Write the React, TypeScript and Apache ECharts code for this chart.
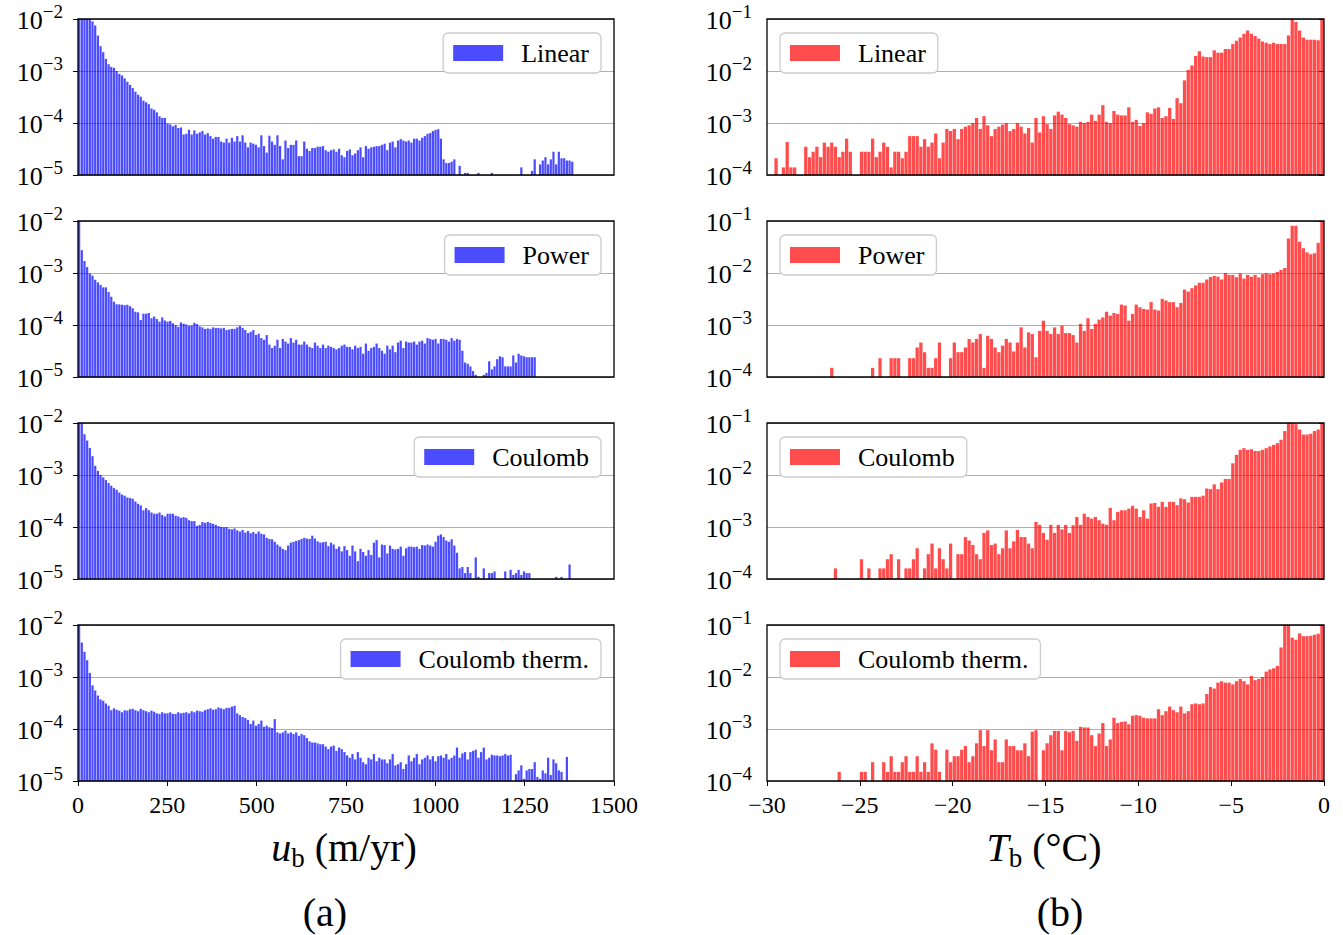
import React, { useEffect, useRef } from "react";
import * as echarts from "echarts";

// ---------------- data ----------------
// Left column: basal sliding speed u_b (m/yr), bins of 7.5 m/yr starting at 0.
// Values are probability densities given in units of 1e-5 (0 = empty bin).
// Right column: basal temperature T_b (°C), bins of 0.2 °C starting at -30.
// Values are probability densities given in units of 1e-4 (0 = empty bin).
const U_MIN = 0;
const U_MAX = 1500;
const U_TICK = 250;
const U_BIN = 7.5;
const U_UNIT = 1e-5;
const U_YMIN = 1e-5;
const U_YMAX = 1e-2;

const T_MIN = -30;
const T_MAX = 0;
const T_TICK = 5;
const T_BIN = 0.2;
const T_UNIT = 1e-4;
const T_YMIN = 1e-4;
const T_YMAX = 1e-1;

const models = ["Linear", "Power", "Coulomb", "Coulomb therm."];

const uLinear = [
  1000, 1000, 1000, 1000, 1000,
  900, 750, 480, 300, 230, 170, 135, 120, 115, 100,
  88, 82, 72, 62, 54, 47, 40, 35, 32, 27, 25, 23, 19, 18, 16, 13.5, 12.5, 12.5,
  9.8, 9.4, 8.6, 9.2, 8, 8.2, 6, 6.2, 7.4, 6, 7.2, 6.2, 6.6,
  7, 6, 6.4, 5.6, 5, 5.4, 5.4, 4.4, 4.2, 5, 4.2, 5.2, 4.4, 5.6, 4.4,
  5.8, 4.2, 3.4, 4.2, 4, 3.8, 3.4, 5.8, 3.6, 2.7, 5.7, 4.4, 3.8, 5.8, 3.6,
  2, 4.6, 3.3, 3.8, 3.8, 4.6, 2.3, 2.3, 4.4, 3.2, 2.9, 3.3, 3.3, 3.5, 3.5,
  3.6, 3.0, 2.8, 3.0, 3.1, 2.8, 3.2, 2.4, 2.2, 2.9, 3.1, 2.4, 2.6, 3.0, 3.4,
  2.2, 3.6, 3.2, 3.4, 3.5, 3.6, 3.6, 3.8, 4.0, 3.0, 4.2, 4.4, 3.4, 4.6, 4.9,
  4.6, 4.4, 4.6, 4.2, 5.0, 5.0, 4.6, 5.2, 5.6, 6.2, 6.4, 7.0, 7.4, 7.6, 5.0,
  2.0, 1.7, 1.7, 1.8, 2.0, 0,
  1.5, 0, 1.1, 1.1, 0, 0, 0, 1.1,
  0, 0, 0, 0,
  1.1,
  0, 0, 0, 0, 0, 0, 0, 0, 0, 0,
  1.4,
  0, 0, 0,
  1.2, 2.0, 0,
  1.6, 1.9, 2.2, 1.6, 2.0, 2.8, 1.6, 2.8, 2.1, 2.1, 1.9, 1.9, 1.8,
];

const uPower = [
  1000,
  275, 170, 130, 98, 89, 74, 66, 59, 53, 53,
  43, 35, 28, 25, 25, 24.5, 24, 24.5, 23, 21, 18, 17.5,
  12.5, 16.5, 16.5, 17, 13.5, 14.5, 13, 11.6, 14, 12.2, 11.6, 12, 10.8,
  10, 9.2, 11.2, 10.6, 10.2, 9.6, 9.8, 11, 10.4, 9.4, 9, 8.4, 8.6,
  8.4, 9, 8.8, 8.8, 8.6, 8.8, 8, 8.2, 8.4, 8.4, 9, 9.6,
  8.8, 8, 7, 7.4, 8, 6.4, 6.8, 5.6, 5.2, 6.4, 4.2, 3.6, 4, 5.2, 3.6,
  5.4, 4.8, 4.4, 5.6, 4.6, 5.2, 4.2, 4.2, 4.8, 4.2, 3.8, 3.6, 4.6, 4, 3.6,
  4.2, 3.6, 4, 3.8, 3.6, 3.4, 3.6, 4, 4.2, 3.8, 3.8, 3.4, 4, 3.6, 3.8,
  2.8, 4.4, 3.2, 3.6, 3.8, 4.4, 3.6, 3.2, 2.8, 4, 3.4, 4, 3, 4.6, 5,
  3.6, 4.8, 4.6, 4.6, 4.8, 4.2, 4.8, 5, 4.4, 5.6, 5.4, 5.2, 5.4, 4.4, 5.4,
  5.4, 5.2, 4.8, 5.6, 5.0, 5.4, 5.2, 3.2,
  1.9, 1.8, 1.6, 1.3, 1.1, 0, 0, 1.1, 1.2, 2.0, 1.4, 1.6, 2.2, 2.5, 2.4, 1.6,
  1.6, 1.6, 2.6, 1.9, 2.8, 2.6, 2.5, 2.4, 2.4, 2.4, 2.4,
];

const uCoulomb = [
  1000, 1000, 610, 460, 330, 230, 150, 120, 100,
  90, 80, 70, 62, 56, 52, 46, 42, 40, 37, 36, 35, 31, 28, 26,
  21, 23, 21, 19, 18, 18, 19, 17, 16, 18, 18, 18, 16.5, 16, 15, 15.5, 15,
  13.5, 13, 13, 10.5, 11, 12.5, 12, 12.5, 12, 11.5, 11, 10.4, 10, 9.8, 10, 9.2,
  9, 9.4, 8.6, 8.2, 8.8, 7.8, 8.4, 7.6, 8, 7.4,
  8.2, 7.4, 7.2, 6.2, 5.9, 5.8, 5.2, 4.6, 4.2, 3.8, 3.6, 4.4, 5, 5.2,
  5.4, 5.6, 5.9, 6.2, 6, 5.9, 6.8, 6, 5.3, 5, 5.1, 5.2, 4.3, 5, 4.6,
  3.8, 4.2, 3.4, 4.3, 3.6, 2.8, 4.4, 3.4, 2.2, 3.8, 3.3, 2.8, 3.6, 2.9, 5,
  5.6, 2.6, 4.6, 4.5, 3.1, 4.4, 3.8, 3.7, 3.8, 4.2, 2.8, 3.9, 4.2, 4.2, 4.1,
  4.2, 3.8, 4.5, 4.4, 4.6, 4.4, 4.2, 5.2, 6.8, 7.2, 6.4, 5.5, 5.2, 5.8, 4.4, 3.2,
  1.6, 1.7, 1.3, 1.7, 1.3, 0, 2.6, 1.1, 0, 1.6, 0, 1.3, 1.3, 1.4, 0, 0, 0, 1.4,
  0, 1.5, 1.2, 1.3, 1.5, 1.2, 1.4, 1.3, 1.3,
  0, 0, 0, 0, 0, 0, 0, 0, 0, 1.1, 0, 1.1, 0, 0, 1.9,
];

const uCoulombTherm = [
  1000,
  460, 305, 210, 120, 69, 55, 44, 37,
  35, 31, 28, 23, 25, 23.5, 22.6,
  21, 23, 22.6, 24, 24.5, 23, 22, 24.5, 23, 22, 21, 22.6, 21.5, 20, 19.5,
  21, 20, 20, 21, 19.5, 19.5, 21, 20, 20.5, 21, 20, 22, 21, 22.6, 22,
  21.5, 23, 24, 25, 23.5, 24, 26, 25, 24, 25.5, 25.5, 27, 28,
  20, 18.5, 17, 16.3, 15, 12.5, 14.5, 11.6, 12.5, 14.5, 11, 11.6, 10.8, 10.4, 15.5,
  8.6, 8.2, 8.6, 9.3, 8.2, 8.6, 8, 8.6, 7.4, 8, 7.6, 6.7, 5.8, 5.5, 5.5,
  5.3, 5.1, 5.1, 4.6, 4.1, 4.6, 4.8, 3.8, 4.4, 4.1, 3.6, 3.1, 2.8, 3.3, 2.6,
  3.6, 2.8, 2.3, 2.1, 2.8, 2.6, 3.3, 2.4, 2.8, 2.6, 2.6, 2.2, 2.6, 3.3, 2.0,
  2.1, 2.3, 1.7, 2.1, 3.1, 2.4, 2.8, 3.3, 2.1, 2.6, 2.8, 3.1, 2.6, 3.0, 2.4,
  3.0, 3.1, 2.8, 3.3, 2.6, 2.8, 3.1, 4.4, 2.8, 3.4, 3.6, 2.6, 3.6, 3.8, 4.0,
  2.8, 3.6, 4.4, 2.6, 2.8, 3.2, 3.1, 3.1, 3.0, 3.1, 3.3, 3.1, 3.2, 0,
  1.35, 1.6, 2.0, 1.1, 1.6, 1.7, 1.7, 2.3, 1.2, 1.1, 1.6, 1.4, 2.8, 1.3, 2.6, 2.2,
  1.6, 1.5, 1.0, 2.9,
];

const tLinear = [
  0, 0, 2.1, 0, 1.4, 4.3, 1.4, 1.4, 0, 0,
  3.5, 2.2, 2.8, 3.5, 2.2, 4.2, 3.5, 4.2, 3.5, 2.2, 2.8, 5.0, 2.8,
  0, 0,
  2.8, 2.8, 2.8, 5.0, 2.2, 2.8, 4.2, 3.5, 1.4, 2.8, 2.8, 2.1, 2.8,
  5.6, 5.6, 5.6, 3.5, 4.9, 3.5, 4.2, 6.3, 2.1, 4.2, 7.7, 7.0, 7.7, 4.9, 7.7, 8.5, 9, 10,
  12.5, 7.7, 13.5, 9, 5.6, 7.7, 8.5, 9.3, 10, 7, 7.7, 10, 8.5, 6.3, 8, 4.2, 12.5, 6.6, 13.5, 9.5,
  7.7, 14, 16.5, 14.5, 12.5, 9.5, 9, 8.5, 10.5, 10, 10.5, 14.5, 11, 14.5, 22, 10.5, 10, 17, 14.5, 14,
  14, 20, 10.5, 11.5, 8.8, 10, 16, 15, 19, 20, 12.5, 13.5, 19.5, 12, 30, 24,
  66, 105, 128, 195, 240, 190, 185, 185, 250, 225, 225, 265, 265, 330, 380, 440, 520, 600,
  520, 470, 420, 370, 350, 330, 350, 330, 330, 330, 480, 1000, 880, 600, 440, 400, 400, 400, 390, 1000,
];

const tPower = [
  0, 0, 0, 0, 0, 0, 0, 0, 0, 0, 0, 0, 0, 0, 0, 0, 0,
  1.5,
  0, 0, 0, 0, 0, 0, 0, 0, 0, 0,
  1.5, 0, 2.3, 0, 0, 2.3, 2.3, 2.3, 0, 0,
  2.3, 2.3, 3.7, 4.6, 3.0, 1.5, 1.5, 2.3, 4.6,
  0, 0,
  2.3, 4.6, 3.0, 3.0, 3.7, 5.4, 4.6, 5.4, 6.7, 1.5, 6.2, 5.4, 3.7, 3.0, 4.0, 5.4, 4.6, 3.1, 4.6, 9.0, 3.7,
  7.2, 6.7, 2.4, 7.7, 12.1, 7.7, 6.7, 9.0, 6.7, 9.7, 7.0, 7.0, 6.4, 4.6, 10.5, 7.7, 13.5, 8.4, 10.5, 12.7,
  14, 18, 15.2, 17, 16.3, 24.7, 23.7, 12.1, 16.3, 24.7, 22, 20.4, 19.8, 27.5, 19.8, 19, 31.8, 29.6, 27.5, 27.5,
  22, 26.6, 48, 44, 51, 57.6, 65, 65, 75, 84,
  88, 85, 75, 100, 92, 92, 83, 98, 78, 92, 85, 92, 82, 95, 100, 95, 98, 105, 115, 125,
  460, 810, 810, 400, 300, 250, 230, 240, 380, 1000,
];

const tCoulomb = [
  0, 0, 0, 0, 0, 0, 0, 0, 0, 0, 0, 0, 0, 0, 0, 0, 0, 0,
  1.6,
  0, 0, 0, 0, 0, 0,
  2.4, 0, 1.6, 0, 0, 1.6,
  1.6, 2.4, 3.0, 0, 2.4, 0, 1.6, 1.6, 2.4, 3.9,
  0, 1.6, 3.0, 4.8, 1.6, 3.9, 2.4, 1.6, 4.8, 0, 3.0, 3.0, 6.4,
  5.5, 4.5, 3.0, 2.4, 7.7, 8.6, 4.5, 4.8, 3.0, 3.9, 8.6, 3.9, 5.3, 8.8, 6.4, 6.4, 4.8, 3.9,
  12.5, 11, 7.7, 5.7, 11, 7.7, 11, 9.0, 11, 7.7, 10.8, 15.6, 11, 18, 15.6, 14.5, 15.6, 13.5, 11.6, 11,
  23.3, 13.5, 19.5, 21, 21, 22.6, 25.5, 22.6, 15.6, 21, 14.5, 28.3, 29, 24.4, 30.5, 24.4, 30.5, 30.5, 26.3, 35.5,
  34.3, 29.6, 38, 38, 38, 40, 55, 53.5, 66, 53.5, 72, 84, 84, 168, 244, 305, 328, 305, 313, 290,
  290, 305, 328, 354, 380, 410, 476, 700, 1000, 1000, 950, 750, 600, 600, 620, 700, 750, 1000,
];

const tCoulombTherm = [
  0, 0, 0, 0, 0, 0, 0, 0, 0, 0, 0, 0, 0, 0, 0, 0, 0, 0, 0,
  1.5,
  0, 0, 0, 0, 0,
  1.5, 1.5, 0, 2.3, 0, 0, 2.3,
  1.5, 3.0, 1.5, 1.5, 2.3, 3.0, 1.5, 1.5, 3.0, 1.5, 2.3, 1.5, 5.3, 4.0, 1.5,
  0,
  4.0, 2.3, 3.0, 3.0, 4.0, 4.7, 2.3, 3.0, 5.3, 9.5, 4.7, 9.5, 3.9, 6.3, 2.3, 2.3, 6.3, 4.7, 4.7, 3.9,
  3.9, 5.3, 3.0, 8.9, 9.5,
  0,
  3.9, 5.3, 7.6, 9.2, 9.2, 3.9, 9.2, 8.7, 9.2, 5.9,
  11, 10.7, 10.7, 7.6, 4.7, 8.2, 13, 4.7, 6.3, 16.5,
  13, 13.7, 14, 12.3, 18, 18.5, 18, 16.5, 16, 16,
  16, 24, 18.5, 22, 27, 23, 21, 27, 20, 22,
  30, 31, 30, 31, 47, 64, 60, 78, 83, 78,
  78, 72, 83, 92, 83, 72, 105, 87, 92, 100,
  127, 140, 147, 164, 370, 1000, 1000, 570, 520, 690,
  610, 610, 620, 650, 680, 1000,
];

const uSeries = [uLinear, uPower, uCoulomb, uCoulombTherm];
const tSeries = [tLinear, tPower, tCoulomb, tCoulombTherm];

// ---------------- layout / style ----------------
const FONT = "'Liberation Serif', 'DejaVu Serif', serif";
const BLUE = "rgba(0,0,255,0.7)";
const RED = "rgba(255,0,0,0.7)";
const ROW_TOP = [19, 221, 423, 625];
const ROW_H = 156;
const COLS = [
  { left: 78, width: 536 },
  { left: 767, width: 557 },
];

const minus = (n: number) => (n < 0 ? "\u2212" + Math.abs(n) : String(Math.abs(n)));

function toBins(vals: number[], start: number, bw: number, unit: number) {
  const out: number[][] = [];
  vals.forEach((v, i) => {
    if (v > 0) out.push([start + i * bw, start + (i + 1) * bw, v * unit]);
  });
  return out;
}

function makeRender(yMin: number, color: string) {
  return (params: any, api: any) => {
    const a = api.coord([api.value(0), api.value(2)]);
    const b = api.coord([api.value(1), yMin]);
    const w = Math.max(b[0] - a[0] - 0.45, 0.6);
    return {
      type: "rect",
      shape: { x: a[0], y: a[1], width: w, height: b[1] - a[1] },
      style: { fill: color },
    };
  };
}

function buildOption() {
  const grid: any[] = [];
  const xAxis: any[] = [];
  const yAxis: any[] = [];
  const series: any[] = [];
  const legend: any[] = [];
  const graphic: any[] = [];

  for (let c = 0; c < 2; c++) {
    for (let r = 0; r < 4; r++) {
      const k = c * 4 + r;
      const col = COLS[c];
      const isU = c === 0;
      const yMin = isU ? U_YMIN : T_YMIN;
      const yMax = isU ? U_YMAX : T_YMAX;
      const color = isU ? BLUE : RED;
      grid.push({
        left: col.left,
        top: ROW_TOP[r],
        width: col.width,
        height: ROW_H,
        containLabel: false,
        outerBoundsMode: "none",
        show: false,
      });
      xAxis.push({
        gridIndex: k,
        type: "value",
        min: isU ? U_MIN : T_MIN,
        max: isU ? U_MAX : T_MAX,
        interval: isU ? U_TICK : T_TICK,
        axisLine: { show: false },
        axisTick: { show: r === 3, length: 5, lineStyle: { color: "#000", width: 1 } },
        axisLabel: {
          show: r === 3,
          margin: 12,
          fontSize: 24,
          fontFamily: FONT,
          color: "#000",
          formatter: (v: number) => minus(v),
        },
        splitLine: { show: false },
      });
      yAxis.push({
        gridIndex: k,
        type: "log",
        logBase: 10,
        min: yMin,
        max: yMax,
        axisLine: { show: false },
        axisTick: { show: true, length: 5, lineStyle: { color: "#000", width: 1 } },
        axisLabel: {
          margin: 15,
          color: "#000",
          padding: [0, 0, 8, 0],
          formatter: (v: number) => {
            const e = Math.round(Math.log10(v));
            return "{b|10}{s|" + minus(e) + "}";
          },
          rich: {
            b: { fontSize: 26, fontFamily: FONT, color: "#000", lineHeight: 26, verticalAlign: "top", padding: [5, 0, 0, 0] },
            s: { fontSize: 19, fontFamily: FONT, color: "#000", lineHeight: 19, verticalAlign: "top" },
          },
        },
        splitLine: { show: true, lineStyle: { color: "#b0b0b0", width: 1.2 } },
      });
      const vals = isU ? uSeries[r] : tSeries[r];
      series.push({
        type: "custom",
        name: models[r],
        xAxisIndex: k,
        yAxisIndex: k,
        coordinateSystem: "cartesian2d",
        clip: true,
        itemStyle: { color },
        encode: { x: [0, 1], y: 2 },
        data: isU ? toBins(vals, U_MIN, U_BIN, U_UNIT) : toBins(vals, T_MIN, T_BIN, T_UNIT),
        renderItem: makeRender(yMin, color),
      });
      const lg: any = {
        data: [{ name: models[r], itemStyle: { color } }],
        top: ROW_TOP[r] + 14,
        orient: "horizontal",
        icon: "rect",
        itemWidth: 50,
        itemHeight: 16,
        padding: [7, 12, 7, 10],
        backgroundColor: "#fff",
        borderColor: "#cccccc",
        borderWidth: 1.3,
        borderRadius: 5,
        selectedMode: false,
        textStyle: { fontSize: 26, fontFamily: FONT, color: "#000", padding: [0, 0, 0, 13] },
      };
      if (isU) lg.right = 1343 - 601;
      else lg.left = 780;
      legend.push(lg);
      graphic.push({
        type: "rect",
        silent: true,
        z: 100,
        shape: { x: col.left, y: ROW_TOP[r], width: col.width, height: ROW_H },
        style: { fill: "none", stroke: "#000", lineWidth: 1.3 },
      });
    }
  }

  const titleRich = {
    i: { fontSize: 40, fontStyle: "italic", fontFamily: FONT, color: "#000", lineHeight: 40, verticalAlign: "top" },
    s: { fontSize: 27, fontFamily: FONT, color: "#000", lineHeight: 27, verticalAlign: "top", padding: [17, 0, 0, 0] },
    n: { fontSize: 40, fontFamily: FONT, color: "#000", lineHeight: 40, verticalAlign: "top" },
  };
  graphic.push(
    {
      type: "text",
      x: 344,
      y: 847,
      style: { text: "{i|u}{s|b}{n| (m/yr)}", rich: titleRich, align: "center", verticalAlign: "middle" },
    },
    {
      type: "text",
      x: 1044,
      y: 847,
      style: { text: "{i|T}{s|b}{n| (°C)}", rich: titleRich, align: "center", verticalAlign: "middle" },
    },
    {
      type: "text",
      x: 325,
      y: 912,
      style: { text: "(a)", fontSize: 40, fontFamily: FONT, fill: "#000", align: "center", verticalAlign: "middle" },
    },
    {
      type: "text",
      x: 1060,
      y: 912,
      style: { text: "(b)", fontSize: 40, fontFamily: FONT, fill: "#000", align: "center", verticalAlign: "middle" },
    }
  );

  return {
    animation: false,
    backgroundColor: "#ffffff",
    grid,
    xAxis,
    yAxis,
    series,
    legend,
    graphic,
  };
}

export default function App() {
  const ref = useRef<HTMLDivElement>(null);
  useEffect(() => {
    if (!ref.current) return;
    const chart = echarts.init(ref.current, undefined, { renderer: "svg" });
    chart.setOption(buildOption() as any);
    return () => chart.dispose();
  }, []);
  return (
    <div
      ref={ref}
      style={{ position: "fixed", left: 0, top: 0, width: 1343, height: 935, background: "#fff" }}
    />
  );
}
